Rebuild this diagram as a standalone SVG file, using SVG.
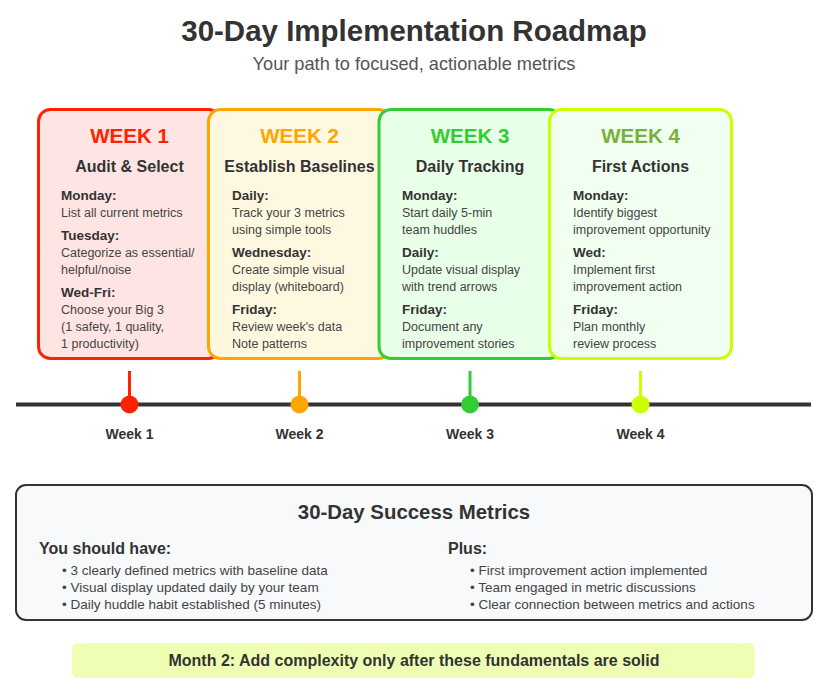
<svg xmlns="http://www.w3.org/2000/svg" width="829" height="700" viewBox="0 0 829 700">
<style>
text{font-family:"Liberation Sans",Arial,sans-serif;}
.title{font-size:29.5px;font-weight:bold;fill:#333;text-anchor:middle;}
.sub{font-size:18.2px;fill:#555;text-anchor:middle;}
.wk{font-size:20.5px;font-weight:bold;text-anchor:middle;}
.head{font-size:16px;font-weight:bold;fill:#333;text-anchor:middle;}
.lbl{font-size:13.5px;font-weight:bold;fill:#333;}
.txt{font-size:12.5px;fill:#444;}
.card{stroke-width:3;}
.tl{font-size:14px;font-weight:bold;fill:#333;text-anchor:middle;}
.mh{font-size:20.4px;font-weight:bold;fill:#333;text-anchor:middle;}
.ms{font-size:16px;font-weight:bold;fill:#333;}
.mb{font-size:13.5px;fill:#444;}
.ban{font-size:16px;font-weight:bold;fill:#333;text-anchor:middle;}
</style>
<rect width="829" height="700" fill="#fff"/>
<text class="title" x="414" y="41">30-Day Implementation Roadmap</text>
<text class="sub" x="414" y="70">Your path to focused, actionable metrics</text>

<g id="week1">
<rect class="card" x="38.5" y="109.5" width="182" height="249" rx="12" fill="#ffe4e4" stroke="#ff2200"/>
<text class="wk" x="129.5" y="143" fill="#ff2200">WEEK 1</text>
<text class="head" x="129.5" y="172">Audit &amp; Select</text>
<text class="lbl" x="61" y="200">Monday:</text>
<text class="txt" x="61" y="217">List all current metrics</text>
<text class="lbl" x="61" y="240">Tuesday:</text>
<text class="txt" x="61" y="257">Categorize as essential/</text>
<text class="txt" x="61" y="274">helpful/noise</text>
<text class="lbl" x="61" y="297">Wed-Fri:</text>
<text class="txt" x="61" y="314">Choose your Big 3</text>
<text class="txt" x="61" y="331">(1 safety, 1 quality,</text>
<text class="txt" x="61" y="348">1 productivity)</text>
</g>

<g id="week2">
<rect class="card" x="208.5" y="109.5" width="182" height="249" rx="12" fill="#fff8e0" stroke="#ffa500"/>
<text class="wk" x="299.5" y="143" fill="#ffa500">WEEK 2</text>
<text class="head" x="299.5" y="172">Establish Baselines</text>
<text class="lbl" x="232" y="200">Daily:</text>
<text class="txt" x="232" y="217">Track your 3 metrics</text>
<text class="txt" x="232" y="234">using simple tools</text>
<text class="lbl" x="232" y="257">Wednesday:</text>
<text class="txt" x="232" y="274">Create simple visual</text>
<text class="txt" x="232" y="291">display (whiteboard)</text>
<text class="lbl" x="232" y="314">Friday:</text>
<text class="txt" x="232" y="331">Review week's data</text>
<text class="txt" x="232" y="348">Note patterns</text>
</g>

<g id="week3">
<rect class="card" x="379" y="109.5" width="182" height="249" rx="12" fill="#e8ffe8" stroke="#33cc33"/>
<text class="wk" x="470" y="143" fill="#33cc33">WEEK 3</text>
<text class="head" x="470" y="172">Daily Tracking</text>
<text class="lbl" x="402" y="200">Monday:</text>
<text class="txt" x="402" y="217">Start daily 5-min</text>
<text class="txt" x="402" y="234">team huddles</text>
<text class="lbl" x="402" y="257">Daily:</text>
<text class="txt" x="402" y="274">Update visual display</text>
<text class="txt" x="402" y="291">with trend arrows</text>
<text class="lbl" x="402" y="314">Friday:</text>
<text class="txt" x="402" y="331">Document any</text>
<text class="txt" x="402" y="348">improvement stories</text>
</g>

<g id="week4">
<rect class="card" x="549.5" y="109.5" width="182" height="249" rx="12" fill="#f0fff0" stroke="#ccff00"/>
<text class="wk" x="640.5" y="143" fill="#77b13c">WEEK 4</text>
<text class="head" x="640.5" y="172">First Actions</text>
<text class="lbl" x="573" y="200">Monday:</text>
<text class="txt" x="573" y="217">Identify biggest</text>
<text class="txt" x="573" y="234">improvement opportunity</text>
<text class="lbl" x="573" y="257">Wed:</text>
<text class="txt" x="573" y="274">Implement first</text>
<text class="txt" x="573" y="291">improvement action</text>
<text class="lbl" x="573" y="314">Friday:</text>
<text class="txt" x="573" y="331">Plan monthly</text>
<text class="txt" x="573" y="348">review process</text>
</g>

<g id="connectors">
<line x1="16" y1="404.5" x2="811" y2="404.5" stroke="#333" stroke-width="4"/>
<line x1="129.5" y1="371" x2="129.5" y2="400" stroke="#ff2200" stroke-width="3"/>
<line x1="299.5" y1="371" x2="299.5" y2="400" stroke="#ffa500" stroke-width="3"/>
<line x1="470" y1="371" x2="470" y2="400" stroke="#33cc33" stroke-width="3"/>
<line x1="640.5" y1="371" x2="640.5" y2="400" stroke="#ccff00" stroke-width="3"/>
</g>
<g id="timeline-week1"><circle cx="129.5" cy="404.5" r="9" fill="#ff2200"/><text class="tl" x="129.5" y="439">Week 1</text></g>
<g id="timeline-week2"><circle cx="299.5" cy="404.5" r="9" fill="#ffa500"/><text class="tl" x="299.5" y="439">Week 2</text></g>
<g id="timeline-week3"><circle cx="470" cy="404.5" r="9" fill="#33cc33"/><text class="tl" x="470" y="439">Week 3</text></g>
<g id="timeline-week4"><circle cx="640.5" cy="404.5" r="9" fill="#ccff00"/><text class="tl" x="640.5" y="439">Week 4</text></g>

<g id="metrics">
<rect x="16" y="485" width="796" height="135" rx="10" fill="#f8f9fa" stroke="#333" stroke-width="2"/>
<text class="mh" x="414" y="519">30-Day Success Metrics</text>
<text class="ms" x="39" y="554">You should have:</text>
<text class="mb" x="62" y="575">• 3 clearly defined metrics with baseline data</text>
<text class="mb" x="62" y="592">• Visual display updated daily by your team</text>
<text class="mb" x="62" y="609">• Daily huddle habit established (5 minutes)</text>
<text class="ms" x="448" y="554">Plus:</text>
<text class="mb" x="470" y="575">• First improvement action implemented</text>
<text class="mb" x="470" y="592">• Team engaged in metric discussions</text>
<text class="mb" x="470" y="609">• Clear connection between metrics and actions</text>
</g>

<g id="banner">
<rect x="72" y="643" width="683" height="35" rx="6" fill="#eeffb3"/>
<text class="ban" x="414" y="666">Month 2: Add complexity only after these fundamentals are solid</text>
</g>
</svg>
